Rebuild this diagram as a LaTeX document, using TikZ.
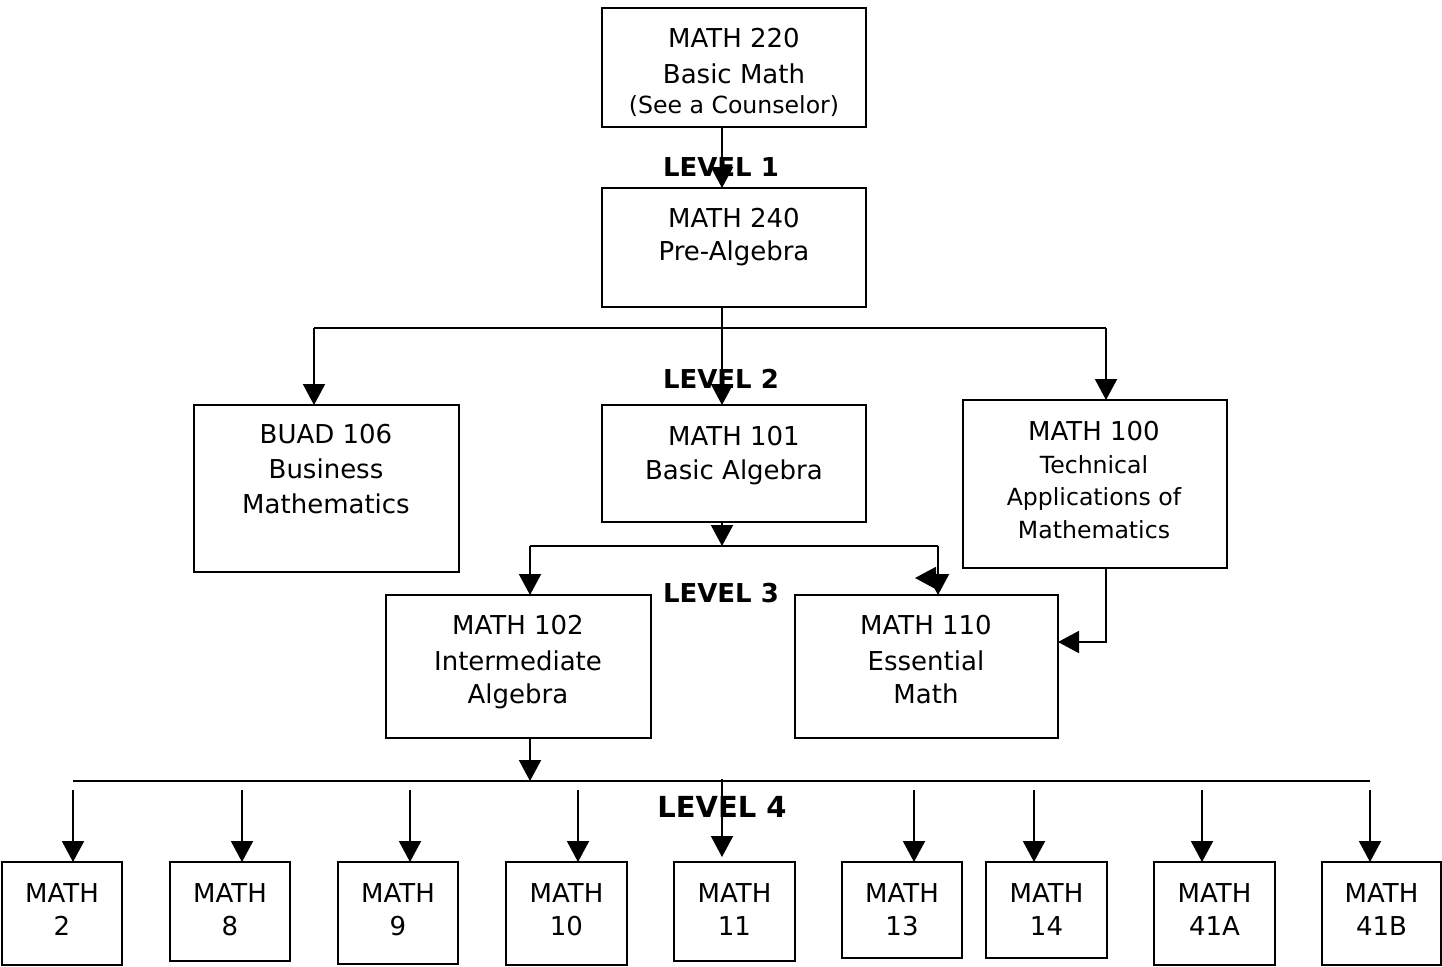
\documentclass[tikz,border=0pt]{standalone}
\usepackage{fontspec}
\setmainfont{DejaVu Sans}
\usetikzlibrary{arrows.meta}
\newcommand\pbox[5]{\node[box, minimum width={(#4-#2)*0.5pt}, minimum height={(#5-#3)*0.5pt}] (#1) at ({(#2+#4)/2},{(#3+#5)/2}) {};}
\begin{document}
\begin{tikzpicture}[x=0.5pt,y=-0.5pt,
  box/.style={draw, line width=0.85pt, inner sep=0pt, outer sep=0pt},
  txt/.style={anchor=base, inner sep=0pt, font=\fontsize{13}{15}\selectfont},
  small/.style={anchor=base, inner sep=0pt, font=\fontsize{11.8}{14}\selectfont},
  lvl/.style={anchor=base, inner sep=0pt, font=\bfseries\fontsize{13}{15}\selectfont},
  ln/.style={line width=1pt},
  arr/.style={line width=1pt, -{Triangle[length=10.5pt,width=11pt]}}]
\useasboundingbox (0,0) rectangle (1442,966);

% ---------- boxes ----------
\pbox{m220}{602}{8}{866}{127}
\pbox{m240}{602}{188}{866}{307}
\pbox{buad}{194}{405}{459}{572}
\pbox{m101}{602}{405}{866}{522}
\pbox{m100}{963}{400}{1227}{568}
\pbox{m102}{386}{595}{651}{738}
\pbox{m110}{795}{595}{1058}{738}
\pbox{b2}{2}{862}{122}{965}
\pbox{b8}{170}{862}{290}{961}
\pbox{b9}{338}{862}{458}{964}
\pbox{b10}{506}{862}{627}{965}
\pbox{b11}{674}{862}{795}{961}
\pbox{b13}{842}{862}{962}{958}
\pbox{b14}{986}{862}{1107}{958}
\pbox{b41a}{1154}{862}{1275}{965}
\pbox{b41b}{1322}{862}{1441}{965}

% ---------- texts ----------
\node[txt] (t220a) at (734,47) {MATH 220};
\node[txt] (t220b) at (734,83) {Basic Math};
\node[small] (t220c) at (734,113) {(See a Counselor)};
\node[txt] (t240a) at (734,227) {MATH 240};
\node[txt] (t240b) at (734,260) {Pre-Algebra};
\node[txt] (tbuada) at (326,443) {BUAD 106};
\node[txt] (tbuadb) at (326,478) {Business};
\node[txt] (tbuadc) at (326,513) {Mathematics};
\node[txt] (t101a) at (734,445) {MATH 101};
\node[txt] (t101b) at (734,479) {Basic Algebra};
\node[txt] (t100a) at (1094,440) {MATH 100};
\node[small] (t100b) at (1094,473) {Technical};
\node[small] (t100c) at (1094,505) {Applications of};
\node[small] (t100d) at (1094,538) {Mathematics};
\node[txt] (t102a) at (518,634) {MATH 102};
\node[txt] (t102b) at (518,670) {Intermediate};
\node[txt] (t102c) at (518,703) {Algebra};
\node[txt] (t110a) at (926,634) {MATH 110};
\node[txt] (t110b) at (926,670) {Essential};
\node[txt] (t110c) at (926,703) {Math};
\foreach \n/\num in {b2/2,b8/8,b9/9,b10/10,b11/11,b13/13,b14/14,b41a/41A,b41b/41B}{
  \node[txt] (\n m) at (\n.center |- 0,902) {MATH};
  \node[txt] (\n n) at (\n.center |- 0,935) {\num};
}
\node[lvl] (L1) at (721,176) {LEVEL 1};
\node[lvl] (L2) at (721,388) {LEVEL 2};
\node[lvl] (L3) at (721,602) {LEVEL 3};
\node[lvl, font=\bfseries\fontsize{14.5}{16}\selectfont] (L4) at (722,817) {LEVEL 4};

% ---------- connectors ----------
\coordinate (c1) at (722,0);
\draw[arr] (c1 |- m220.south) -- (c1 |- m240.north);
\draw[arr] (c1 |- m240.south) -- (c1 |- m101.north);
\coordinate (j2L) at (314,328);
\coordinate (j2R) at (1106,328);
\draw[ln] (j2L) -- (j2R);
\draw[arr] (j2L) -- (j2L |- buad.north);
\draw[arr] (j2R) -- (j2R |- m100.north);

\coordinate (j3) at (722,546);
\coordinate (j3L) at (530,546);
\coordinate (j3R) at (938,546);
\draw[arr] (c1 |- m101.south) -- (j3);
\draw[ln] (j3L) -- (j3R);
\draw[arr] (j3L) -- (j3L |- m102.north);
\draw[arr] (j3R) -- (j3R |- m110.north);
\coordinate (sa) at (936,578);
\coordinate (sb) at (915,578);
\draw[arr] (sa) -- (sb);

\coordinate (k) at (1106,642);
\draw[arr] (m100.south -| k) -- (k) -- (k -| m110.east);

\coordinate (j4) at (530,781);
\draw[arr] (j3L |- m102.south) -- (j4);
\coordinate (busL) at (73,781);
\coordinate (busR) at (1370,781);
\draw[ln] (busL) -- (busR);
\foreach \n/\x in {b2/73,b8/242,b9/410,b10/578,b13/914,b14/1034,b41a/1202,b41b/1370}{
  \coordinate (s\n) at (\x,790);
  \draw[arr] (s\n) -- (s\n |- \n.north);
}
\coordinate (s11) at (722,779);
\coordinate (e11) at (722,857);
\draw[arr] (s11) -- (e11);
\end{tikzpicture}
\end{document}
